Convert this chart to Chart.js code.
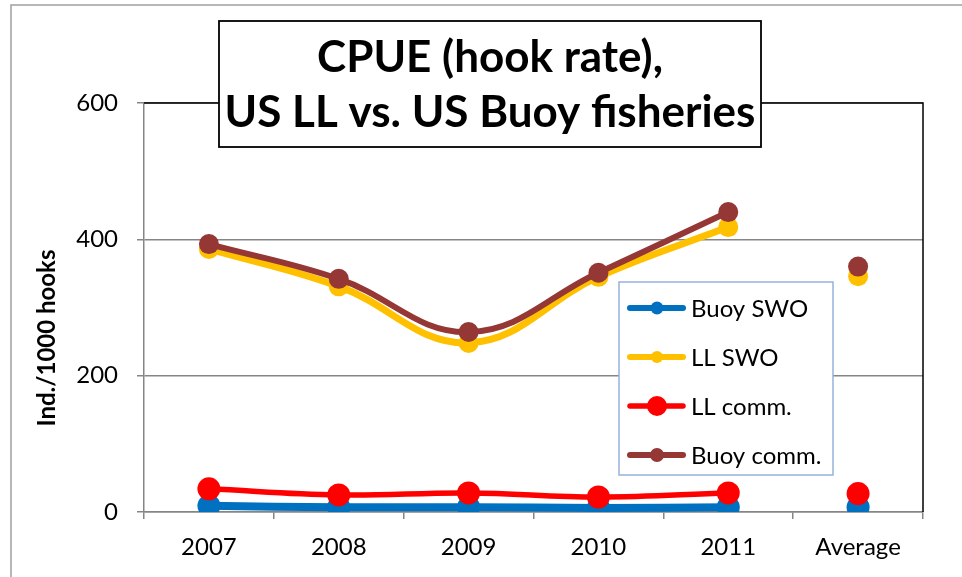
<!DOCTYPE html>
<html>
<head>
<meta charset="utf-8">
<title>CPUE (hook rate), US LL vs. US Buoy fisheries</title>
<script src="https://cdn.jsdelivr.net/npm/chart.js@4.4.1/dist/chart.umd.min.js"></script>
<style>
    html, body { margin: 0; padding: 0; background: #fff; }
    #wrap { width: 962px; height: 577px; }
</style>
</head>
<body>
<div id="wrap"><canvas id="cpueChart"></canvas></div>
<script>
// ==================== DATA ====================
const categories = ['2007', '2008', '2009', '2010', '2011', 'Average'];
const seriesNames = ['Buoy SWO', 'LL SWO', 'LL comm.', 'Buoy comm.'];

// yearly values 2007..2011, then the average shown on its own
const buoySwo  = [9, 7, 7, 6, 7];
const llSwo    = [386, 331, 248, 345, 418];
const llComm   = [34, 25, 28, 22, 28];
const buoyComm = [393, 342, 264, 351, 440];
const averages = [7, 346, 27, 360];

const yTicks = [0, 200, 400, 600];
const titleLines = ['CPUE (hook rate),', 'US LL vs. US Buoy fisheries'];
const yTitle = 'Ind./1000 hooks';

// ==================== STYLE ====================
const FONT = 'Lato';
const colors = ['#0070c0', '#ffc000', '#ff0000', '#953735'];
const lineWidths = [8, 7, 5.5, 6];
const pointRadii = [11.5, 10, 11.5, 10];
const legendRadii = [6.5, 6, 10, 7];
const drawOrder = [4, 3, 2, 1]; // lower = drawn on top

const allValues = [buoySwo, llSwo, llComm, buoyComm];

function buildDatasets() {
    const sets = [];
    allValues.forEach((vals, i) => {
        sets.push({
            label: seriesNames[i],
            data: vals.concat([null]),
            borderColor: colors[i],
            backgroundColor: colors[i],
            borderWidth: lineWidths[i],
            pointRadius: pointRadii[i],
            pointHoverRadius: pointRadii[i],
            pointBorderWidth: 0,
            tension: 0.4,
            spanGaps: false,
            order: drawOrder[i]
        });
        sets.push({
            label: seriesNames[i] + ' avg',
            data: [null, null, null, null, null, averages[i]],
            borderColor: colors[i],
            backgroundColor: colors[i],
            showLine: false,
            pointRadius: pointRadii[i],
            pointHoverRadius: pointRadii[i],
            pointBorderWidth: 0,
            order: drawOrder[i]
        });
    });
    return sets;
}

// ==================== PLUGINS ====================
const framePlugin = {
    id: 'frame',
    beforeDraw(chart) {
        const c = chart.ctx;
        c.save();
        c.fillStyle = '#fff';
        c.fillRect(0, 0, chart.width, chart.height);
        c.strokeStyle = '#a0a0a0';
        c.lineWidth = 1.5;
        c.beginPath();
        c.moveTo(11, chart.height + 2);
        c.lineTo(11, 5);
        c.lineTo(chart.width + 2, 5);
        c.stroke();
        // axis title, placed where the original sits
        c.translate(47, 338);
        c.rotate(-Math.PI / 2);
        c.font = 'bold 24px ' + FONT;
        c.fillStyle = '#000';
        c.textAlign = 'center';
        c.textBaseline = 'middle';
        c.fillText(yTitle, 0, 0);
        c.restore();
    },
    beforeDatasetsDraw(chart) {
        const a = chart.chartArea;
        const c = chart.ctx;
        c.save();
        c.strokeStyle = '#000';
        c.lineWidth = 1.5;
        c.beginPath();
        c.moveTo(a.left, a.top);
        c.lineTo(a.right, a.top);
        c.lineTo(a.right, a.bottom);
        c.stroke();
        c.restore();
    }
};

const legendPlugin = {
    id: 'boxLegend',
    afterDatasetsDraw(chart) {
        const c = chart.ctx;
        const box = { x: 619, y: 282, w: 214, h: 193 };
        c.save();
        c.fillStyle = '#fff';
        c.fillRect(box.x, box.y, box.w, box.h);
        c.strokeStyle = '#95b3d7';
        c.lineWidth = 1.5;
        c.strokeRect(box.x, box.y, box.w, box.h);
        c.font = '24px ' + FONT;
        c.textBaseline = 'middle';
        c.textAlign = 'left';
        seriesNames.forEach((name, i) => {
            const y = 308 + i * 49;
            c.strokeStyle = colors[i];
            c.lineWidth = Math.min(lineWidths[i], 6);
            c.lineCap = 'round';
            c.beginPath();
            c.moveTo(630, y);
            c.lineTo(683, y);
            c.stroke();
            c.fillStyle = colors[i];
            c.beginPath();
            c.arc(657, y, legendRadii[i], 0, Math.PI * 2);
            c.fill();
            c.fillStyle = '#000';
            c.fillText(name, 691, y + 1);
        });
        c.restore();
    }
};

const titleBoxPlugin = {
    id: 'titleBox',
    afterDraw(chart) {
        const c = chart.ctx;
        const box = { x: 219, y: 21, w: 542, h: 126 };
        c.save();
        c.fillStyle = '#fff';
        c.fillRect(box.x, box.y, box.w, box.h);
        c.strokeStyle = '#000';
        c.lineWidth = 1.8;
        c.strokeRect(box.x, box.y, box.w, box.h);
        // size the bold title so the long line fills the box like the original
        c.font = 'bold 100px ' + FONT;
        const w = c.measureText(titleLines[1]).width;
        const size = Math.round(100 * 532 / w);
        c.font = 'bold ' + size + 'px ' + FONT;
        c.fillStyle = '#000';
        c.textAlign = 'center';
        c.textBaseline = 'middle';
        const cx = box.x + box.w / 2;
        c.fillText(titleLines[0], cx, 58);
        c.fillText(titleLines[1], cx, 113);
        c.restore();
    }
};

// ==================== CHART ====================
Chart.defaults.font.family = FONT;
Chart.defaults.color = '#000';

const ctx = document.getElementById('cpueChart').getContext('2d');
new Chart(ctx, {
    type: 'line',
    data: { labels: categories, datasets: buildDatasets() },
    options: {
        responsive: true,
        maintainAspectRatio: false,
        animation: false,
        layout: { padding: { top: 103, right: 39, left: 0, bottom: 0 } },
        plugins: {
            legend: { display: false },
            title: { display: false },
            tooltip: { enabled: false }
        },
        scales: {
            x: {
                offset: true,
                grid: {
                    offset: true,
                    drawOnChartArea: false,
                    drawTicks: true,
                    tickLength: 7,
                    color: '#868686',
                    lineWidth: 1.5
                },
                border: { color: '#868686', width: 1.5 },
                ticks: { font: { size: 24 }, padding: 14, maxRotation: 0 },
                afterFit: s => { s.height = 65; }
            },
            y: {
                min: 0,
                max: 600,
                afterBuildTicks: s => { s.ticks = yTicks.map(v => ({ value: v })); },
                grid: { color: '#868686', lineWidth: 1.5, tickLength: 7 },
                border: { color: '#868686', width: 1.5 },
                ticks: { font: { size: 24 }, padding: 19 },
                afterFit: s => { s.width = 144; }
            }
        }
    },
    plugins: [framePlugin, legendPlugin, titleBoxPlugin]
});
</script>
</body>
</html>
